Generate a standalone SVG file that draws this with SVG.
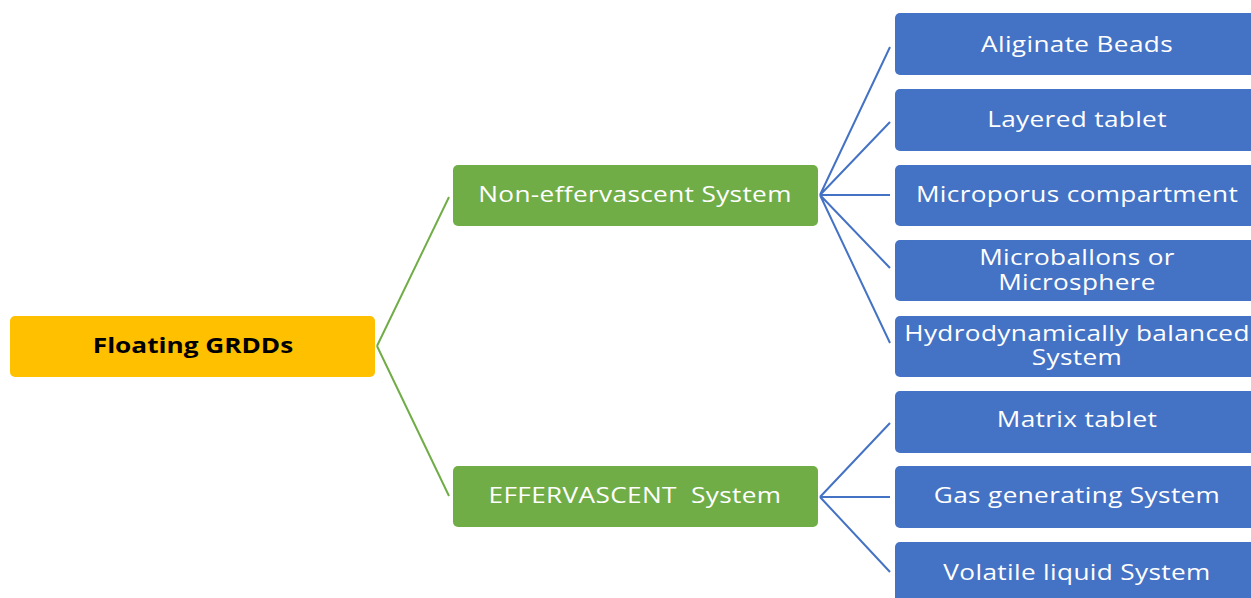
<svg xmlns="http://www.w3.org/2000/svg" width="1251" height="598" viewBox="0 0 1251 598">
<style>
.root{fill:#FFC000}
.grn{fill:#70AD47}
.blu{fill:#4472C4}
.t{font-family:"Open Sans","Liberation Sans",sans-serif;font-size:22px;fill:#fff;text-anchor:middle;letter-spacing:0.3px}
.tb{font-family:"Open Sans","Liberation Sans",sans-serif;font-size:22px;font-weight:bold;fill:#000;text-anchor:middle}
.cg{stroke:#70AD47;stroke-width:2;fill:none}
.cb{stroke:#4472C4;stroke-width:2;fill:none}
</style>
<rect width="1251" height="598" fill="#fff"/>
<g id="connectors">
<path class="cg" d="M377,346 L449,197 M377,346 L449,496"/>
<path class="cb" d="M820,195 L890,47 M820,195 L890,122 M820,195 L890,195 M820,195 L890,268 M820,195 L890,343"/>
<path class="cb" d="M820,497 L890,423 M820,497 L890,497 M820,497 L890,572"/>
</g>
<g id="n-root"><rect class="root" x="10" y="316" width="365" height="61" rx="5"/><text class="tb" transform="translate(193,353) scale(1.19,1)">Floating GRDDs</text></g>
<g id="n-noneff"><rect class="grn" x="453" y="165" width="365" height="61" rx="5"/><text class="t" transform="translate(635,202) scale(1.19,1)">Non-effervascent System</text></g>
<g id="n-eff"><rect class="grn" x="453" y="466" width="365" height="61" rx="5"/><text class="t" transform="translate(635,503) scale(1.19,1)" xml:space="preserve">EFFERVASCENT  System</text></g>
<g id="n-alg"><rect class="blu" x="895" y="13" width="370" height="62" rx="5"/><text class="t" transform="translate(1077,52) scale(1.19,1)">Aliginate Beads</text></g>
<g id="n-lay"><rect class="blu" x="895" y="89" width="370" height="62" rx="5"/><text class="t" transform="translate(1077,127) scale(1.19,1)">Layered tablet</text></g>
<g id="n-mic"><rect class="blu" x="895" y="165" width="370" height="61" rx="5"/><text class="t" transform="translate(1077,202) scale(1.19,1)">Microporus compartment</text></g>
<g id="n-mb"><rect class="blu" x="895" y="240" width="370" height="61" rx="5"/><text class="t" transform="translate(1077,265) scale(1.19,1)"><tspan x="0" y="0">Microballons or</tspan><tspan x="0" y="25">Microsphere</tspan></text></g>
<g id="n-hyd"><rect class="blu" x="895" y="316" width="370" height="61" rx="5"/><text class="t" transform="translate(1077,341) scale(1.19,1)"><tspan x="0" y="0">Hydrodynamically balanced</tspan><tspan x="0" y="24">System</tspan></text></g>
<g id="n-mat"><rect class="blu" x="895" y="391" width="370" height="62" rx="5"/><text class="t" transform="translate(1077,427) scale(1.19,1)">Matrix tablet</text></g>
<g id="n-gas"><rect class="blu" x="895" y="466" width="370" height="62" rx="5"/><text class="t" transform="translate(1077,503) scale(1.19,1)">Gas generating System</text></g>
<g id="n-vol"><rect class="blu" x="895" y="542" width="370" height="62" rx="5"/><text class="t" transform="translate(1077,580) scale(1.19,1)">Volatile liquid System</text></g>
</svg>
